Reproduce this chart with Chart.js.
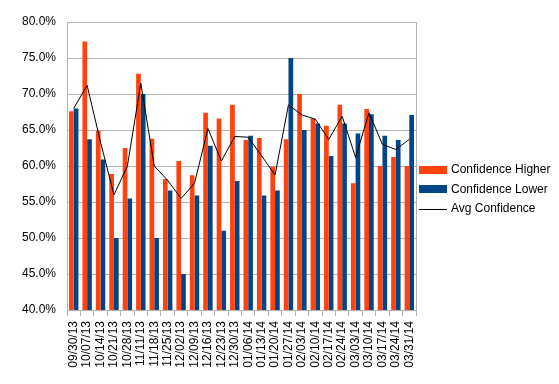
<!DOCTYPE html>
<html>
<head>
<meta charset="utf-8">
<script src="https://cdn.jsdelivr.net/npm/chart.js@4"></script>
<style>
  html, body { margin: 0; padding: 0; background: #ffffff; }
  #wrap { width: 559px; height: 384px; }
</style>
</head>
<body>
<div id="wrap"><canvas id="c" width="559" height="384"></canvas></div>
<script>
const categories = ['09/30/13','10/07/13','10/14/13','10/21/13','10/28/13','11/11/13','11/18/13','11/25/13','12/02/13','12/09/13','12/16/13','12/23/13','12/30/13','01/06/14','01/13/14','01/20/14','01/27/14','02/03/14','02/10/14','02/17/14','02/24/14','03/03/14','03/10/14','03/17/14','03/24/14','03/31/14'];
const confidenceHigher = [67.6, 77.3, 64.9, 58.9, 62.5, 72.8, 63.8, 58.2, 60.7, 58.7, 67.4, 66.6, 68.5, 63.6, 63.9, 59.9, 63.7, 70.0, 66.6, 65.6, 68.5, 57.6, 67.9, 60.0, 61.25, 60.0];
const confidenceLower = [68.0, 63.7, 60.9, 50.0, 55.5, 70.0, 50.0, 56.6, 45.0, 55.9, 62.8, 51.0, 57.9, 64.2, 55.9, 56.6, 75.0, 65.0, 65.9, 61.4, 65.9, 64.5, 67.2, 64.2, 63.6, 67.1];
const avgConfidence = [68.0, 71.2, 63.3, 56.0, 60.0, 71.5, 60.0, 58.0, 55.5, 57.6, 65.2, 60.7, 64.1, 64.0, 61.4, 58.75, 68.5, 67.1, 66.5, 63.7, 66.9, 61.2, 67.4, 63.0, 62.3, 63.7];
const yTicks = [40, 45, 50, 55, 60, 65, 70, 75, 80];

const FONT = 'Liberation Sans, Arial, sans-serif';
Chart.defaults.font.family = FONT;
Chart.defaults.font.size = 12;
Chart.defaults.color = '#000000';

const GRID = '#b3b3b3';

const frame = {
  id: 'frame',
  afterDatasetsDraw(chart) {
    const a = chart.chartArea, ctx = chart.ctx;
    ctx.save();
    ctx.strokeStyle = GRID;
    ctx.lineWidth = 1;
    ctx.beginPath();
    ctx.moveTo(Math.round(a.right) + 0.5, a.top);
    ctx.lineTo(Math.round(a.right) + 0.5, a.bottom);
    ctx.stroke();
    ctx.restore();
  }
};

const legendBox = {
  id: 'legendBox',
  afterDraw(chart) {
    const ctx = chart.ctx;
    const ds = chart.data.datasets;
    const x = 419, rows = [169.5, 189, 208.5];
    ctx.save();
    ctx.font = '12px ' + FONT;
    ctx.textBaseline = 'middle';
    ctx.fillStyle = '#000';
    ds.forEach((d, i) => {
      const y = rows[i];
      if (d.type === 'line') {
        ctx.strokeStyle = d.borderColor;
        ctx.lineWidth = 1;
        ctx.beginPath();
        ctx.moveTo(x, Math.round(y) + 0.5);
        ctx.lineTo(x + 28, Math.round(y) + 0.5);
        ctx.stroke();
      } else {
        ctx.fillStyle = d.backgroundColor;
        ctx.fillRect(x, Math.round(y - 4), 28, 8);
      }
      ctx.fillStyle = '#000';
      ctx.fillText(d.label, x + 32, y + 0.5);
    });
    ctx.restore();
  }
};

new Chart(document.getElementById('c'), {
  type: 'bar',
  data: {
    labels: categories,
    datasets: [
      { type: 'bar', label: 'Confidence Higher', data: confidenceHigher, backgroundColor: '#ff420e', order: 2,
        categoryPercentage: 0.7, barPercentage: 1.0 },
      { type: 'bar', label: 'Confidence Lower', data: confidenceLower, backgroundColor: '#004586', order: 2,
        categoryPercentage: 0.7, barPercentage: 1.0 },
      { type: 'line', label: 'Avg Confidence', data: avgConfidence, borderColor: '#000000', backgroundColor: '#000000',
        borderWidth: 1, pointRadius: 0, tension: 0, order: 0 }
    ]
  },
  options: {
    responsive: false,
    animation: false,
    devicePixelRatio: 1,
    layout: { padding: { left: 0, right: 143, top: 22, bottom: 0 } },
    plugins: { legend: { display: false }, tooltip: { enabled: false } },
    scales: {
      x: {
        offset: true,
        grid: { display: true, drawOnChartArea: false, drawTicks: true, tickLength: 6, color: GRID, offset: true },
        border: { display: true, color: GRID },
        ticks: { minRotation: 90, maxRotation: 90, autoSkip: false, padding: 5, font: { size: 12 } },
        afterFit(s) { s.height = 74; }
      },
      y: {
        min: 40, max: 80,
        afterBuildTicks(s) { s.ticks = yTicks.map(v => ({ value: v })); },
        grid: { color: GRID, drawTicks: false },
        border: { display: true, color: GRID },
        ticks: { padding: 11, callback: v => v.toFixed(1) + '%', font: { size: 12 } },
        afterFit(s) { s.width = 67; }
      }
    }
  },
  plugins: [frame, legendBox]
});
</script>
</body>
</html>
